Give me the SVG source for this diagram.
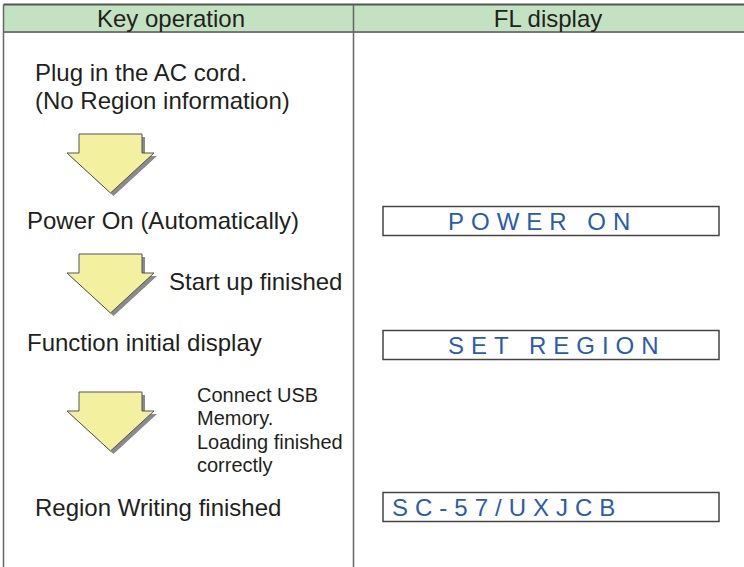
<svg xmlns="http://www.w3.org/2000/svg" width="744" height="567" viewBox="0 0 744 567">
<style>
.t{font-family:"Liberation Sans",Arial,sans-serif;font-size:24px;fill:#231f20}
.s{font-family:"Liberation Sans",Arial,sans-serif;font-size:20px;fill:#231f20}
.h{font-family:"Liberation Sans",Arial,sans-serif;font-size:24px;fill:#231f20;text-anchor:middle}
.fl{font-family:"Liberation Sans",Arial,sans-serif;font-size:24px;fill:#2a5cad;letter-spacing:7px}
.box{fill:#fff;stroke:#444;stroke-width:1.5}
.arr{fill:#f3f0a0;stroke:#555;stroke-width:1}
.sh{fill:#8a8a8a}
</style>
<defs>
<path id="arrow" d="M79,134 H142 V153 H154 L110.5,193 L67,153 H79 Z"/>
</defs>
<g id="table">
<rect x="3.5" y="4.5" width="741" height="27.5" fill="#c3e2c1"/>
<line x1="3.5" y1="4.5" x2="744" y2="4.5" stroke="#555" stroke-width="2"/>
<line x1="3.5" y1="32" x2="744" y2="32" stroke="#777" stroke-width="2"/>
<line x1="3.5" y1="4.5" x2="3.5" y2="567" stroke="#666" stroke-width="1.5"/>
<line x1="353.5" y1="4.5" x2="353.5" y2="567" stroke="#666" stroke-width="1.5"/>
<text class="h" x="171" y="27">Key operation</text>
<text class="h" x="548" y="27">FL display</text>
</g>
<g id="connectors">
<g id="arrow1">
<use href="#arrow" class="sh" transform="translate(3,3)"/>
<use href="#arrow" class="arr"/>
</g>
<g id="arrow2" transform="translate(0,120)">
<use href="#arrow" class="sh" transform="translate(3,3)"/>
<use href="#arrow" class="arr"/>
</g>
<g id="arrow3" transform="translate(0,258)">
<use href="#arrow" class="sh" transform="translate(3,3)"/>
<use href="#arrow" class="arr"/>
</g>
</g>
<g id="step1">
<text class="t" x="35" y="81">Plug in the AC cord.</text>
<text class="t" x="35" y="109">(No Region information)</text>
</g>
<g id="step2">
<text class="t" x="27" y="229">Power On (Automatically)</text>
</g>
<g id="label2">
<text class="t" x="169" y="290">Start up finished</text>
</g>
<g id="step3">
<text class="t" x="27" y="351">Function initial display</text>
</g>
<g id="label3">
<text class="s" x="197" y="402">Connect USB</text>
<text class="s" x="197" y="425">Memory.</text>
<text class="s" x="197" y="449">Loading finished</text>
<text class="s" x="197" y="472">correctly</text>
</g>
<g id="step4">
<text class="t" x="35" y="516">Region Writing finished</text>
</g>
<g id="fl1">
<rect class="box" x="383" y="206.5" width="336" height="29"/>
<text class="fl" x="448" y="230">POWER ON</text>
</g>
<g id="fl2">
<rect class="box" x="383" y="330.5" width="336" height="29"/>
<text class="fl" x="448" y="354">SET REGION</text>
</g>
<g id="fl3">
<rect class="box" x="383" y="492.5" width="336" height="29"/>
<text class="fl" x="392" y="516">SC-57/UXJCB</text>
</g>
</svg>
